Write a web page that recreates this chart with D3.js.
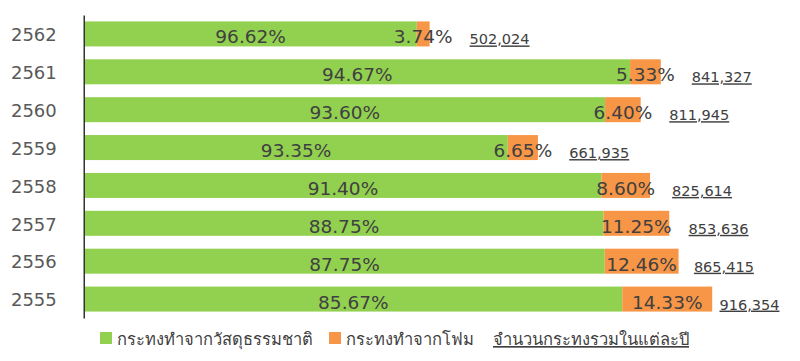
<!DOCTYPE html>
<html>
<head>
<meta charset="utf-8">
<script src="https://cdn.jsdelivr.net/npm/d3@7"></script>
<style>
  html, body { margin: 0; padding: 0; background: #fff; }
  svg { display: block; font-family: "DejaVu Sans", Verdana, sans-serif; }
</style>
</head>
<body>
<svg id="chart" width="800" height="361"></svg>
<script>
const years = ['2562', '2561', '2560', '2559', '2558', '2557', '2556', '2555'];
const naturalPct = [96.62, 94.67, 93.60, 93.35, 91.40, 88.75, 87.75, 85.67];
const foamPct = [3.74, 5.33, 6.40, 6.65, 8.60, 11.25, 12.46, 14.33];
const totals = [502024, 841327, 811945, 661935, 825614, 853636, 865415, 916354];
const legendLabels = ['กระทงทำจากวัสดุธรรมชาติ', 'กระทงทำจากโฟม', 'จำนวนกระทงรวมในแต่ละปี'];

const colors = { natural: '#92D050', foam: '#F79646', text: '#404040', year: '#595959' };

const svg = d3.select('#chart');

const x = d3.scaleLinear().domain([0, 1000000]).range([84.5, 769.5]);
const y = d3.scaleBand().domain(years).range([15, 318]).paddingInner(0.34).paddingOuter(0.17);

const rows = years.map((yr, i) => {
  const nat = totals[i] * naturalPct[i] / 100;
  const foam = totals[i] * foamPct[i] / 100;
  return { year: yr, nat, foam, natPct: naturalPct[i], foamPct: foamPct[i], total: totals[i] };
});

const g = svg.append('g');

// green segments
g.selectAll('rect.nat').data(rows).join('rect')
  .attr('class', 'nat')
  .attr('x', x(0))
  .attr('y', d => y(d.year))
  .attr('width', d => x(d.nat) - x(0))
  .attr('height', y.bandwidth())
  .attr('fill', colors.natural);

// orange segments
g.selectAll('rect.foam').data(rows).join('rect')
  .attr('class', 'foam')
  .attr('x', d => x(d.nat))
  .attr('y', d => y(d.year))
  .attr('width', d => x(d.nat + d.foam) - x(d.nat))
  .attr('height', y.bandwidth())
  .attr('fill', colors.foam);

// axis
const axis = d3.axisLeft(y).tickSize(0).tickSizeOuter(0).tickPadding(27);
const ax = svg.append('g').attr('transform', `translate(${x(0) - 0.75},0)`).call(axis);
ax.select('.domain').attr('stroke', '#333').attr('stroke-width', 1.5);
ax.selectAll('.tick text')
  .attr('fill', colors.year)
  .attr('font-size', 18)
  .attr('font-family', '"DejaVu Sans", Verdana, sans-serif')
  .attr('dy', '0.40em');

const fmtPct = v => v.toFixed(2) + '%';

// green labels
g.selectAll('text.natl').data(rows).join('text')
  .attr('class', 'natl')
  .attr('x', d => (x(0) + x(d.nat)) / 2)
  .attr('y', d => y(d.year) + y.bandwidth() / 2 + 9.5)
  .attr('text-anchor', 'middle')
  .attr('font-size', 18.5)
  .attr('fill', colors.text)
  .text(d => fmtPct(d.natPct));

// orange labels
const foamLabels = g.selectAll('text.foaml').data(rows).join('text')
  .attr('class', 'foaml')
  .attr('x', d => (x(d.nat) + x(d.nat + d.foam)) / 2)
  .attr('y', d => y(d.year) + y.bandwidth() / 2 + 9.5)
  .attr('text-anchor', 'middle')
  .attr('font-size', 18.5)
  .attr('fill', colors.text)
  .text(d => fmtPct(d.foamPct));

// total labels placed after the orange label
const fmtTotal = d3.format(',');
const ends = [];
foamLabels.each(function(d, i) {
  const bb = this.getBBox();
  ends[i] = bb.x + bb.width;
});
g.selectAll('text.tot').data(rows).join('text')
  .attr('class', 'tot')
  .attr('x', (d, i) => ends[i] + 17)
  .attr('y', d => y(d.year) + y.bandwidth() / 2 + 10.5)
  .attr('font-size', 14.5)
  .attr('fill', colors.text)
  .attr('text-decoration', 'underline')
  .text(d => fmtTotal(d.total));

// legend
const lg = svg.append('g');
const legendItems = [
  { label: legendLabels[0], color: colors.natural, x: 100 },
  { label: legendLabels[1], color: colors.foam, x: 329 },
  { label: legendLabels[2], color: null, x: 493 }
];
legendItems.forEach(it => {
  if (it.color) {
    lg.append('rect').attr('x', it.x).attr('y', 332).attr('width', 12).attr('height', 12).attr('fill', it.color);
  }
  lg.append('text')
    .attr('x', it.color ? it.x + 17 : it.x)
    .attr('y', 345)
    .attr('font-size', 16.5)
    .attr('fill', colors.text)
    .attr('text-decoration', it.color ? null : 'underline')
    .text(it.label);
});
</script>
</body>
</html>
